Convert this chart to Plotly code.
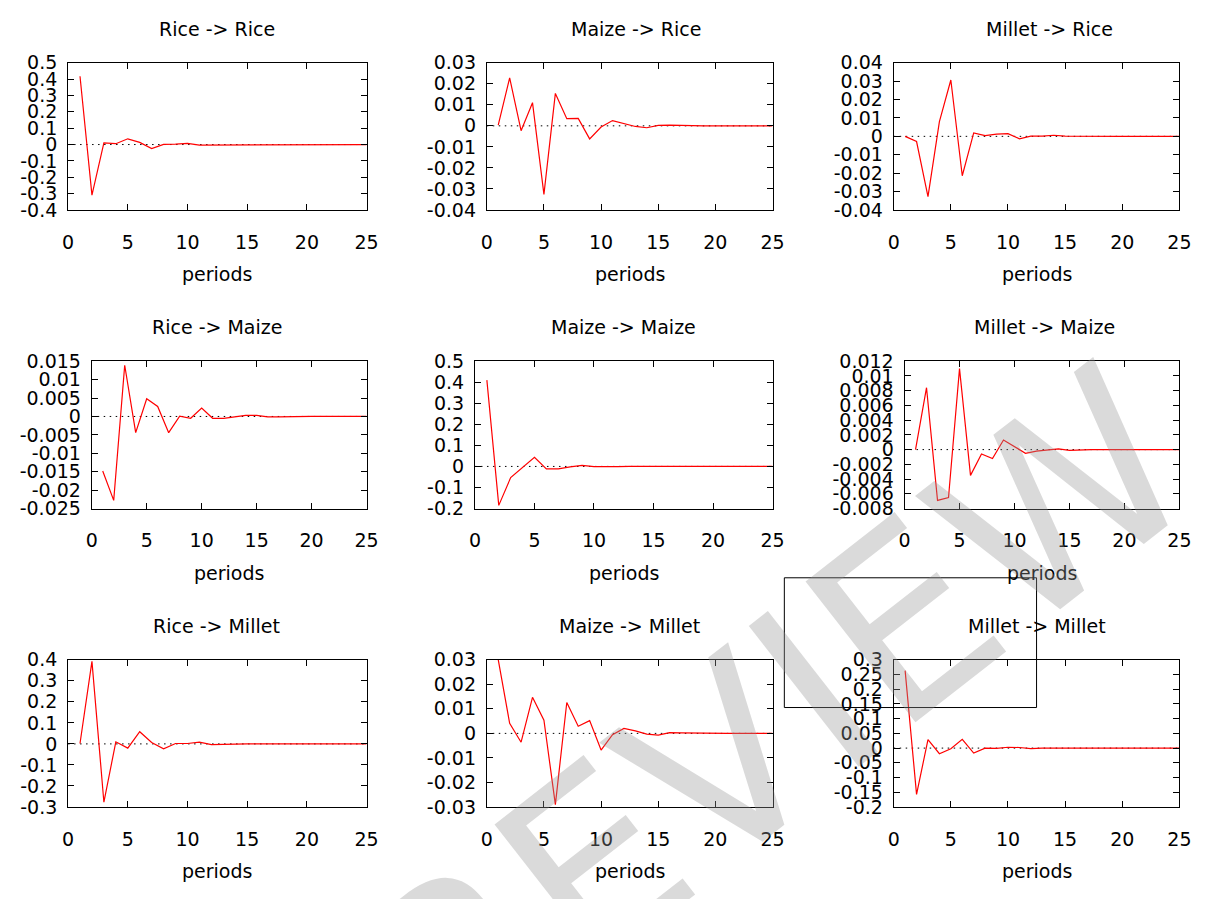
import plotly.graph_objects as go

# ---------------- data ----------------
periods = list(range(1, 26))

rice_rice = [0.417, -0.309, 0.010, 0.005, 0.035, 0.013, -0.025, 0.001, 0.002, 0.007,
             -0.003, -0.003, -0.001, 0.001, 0.000, 0.000, 0.000, 0.000, 0.000, 0.000,
             0.000, 0.000, 0.000, 0.000, 0.000]
maize_rice = [0.0003, 0.0228, -0.0023, 0.0110, -0.0326, 0.0154, 0.0034, 0.0035, -0.0062, -0.0006,
              0.0025, 0.0011, -0.0003, -0.0009, 0.0002, 0.0003, 0.0001, -0.0001, 0.0000, 0.0000,
              0.0000, 0.0000, 0.0000, 0.0000, 0.0000]
millet_rice = [0.0000, -0.0028, -0.0327, 0.0080, 0.0306, -0.0214, 0.0019, 0.0004, 0.0012, 0.0015,
               -0.0013, 0.0001, 0.0001, 0.0006, 0.0001, 0.0000, 0.0000, 0.0000, 0.0000, 0.0000,
               0.0000, 0.0000, 0.0000, 0.0000, 0.0000]
rice_maize = [-0.0148, -0.0228, 0.0139, -0.0044, 0.0048, 0.0027, -0.0044, 0.0001, -0.0005, 0.0023,
              -0.0005, -0.0005, -0.0001, 0.0003, 0.0003, -0.0001, -0.0001, 0.0000, 0.0000, 0.0000,
              0.0000, 0.0000, 0.0000, 0.0000, 0.0000]
maize_maize = [0.410, -0.185, -0.053, -0.005, 0.0435, -0.012, -0.012, -0.002, 0.005, -0.001,
               -0.002, -0.001, 0.000, 0.000, 0.000, 0.000, 0.000, 0.000, 0.000, 0.000,
               0.000, 0.000, 0.000, 0.000, 0.000]
millet_maize = [0.0000, 0.0084, -0.0069, -0.0065, 0.0110, -0.0035, -0.0006, -0.0012, 0.0013, 0.0004,
                -0.0005, -0.0002, 0.0000, 0.0001, -0.0001, 0.0000, 0.0000, 0.0000, 0.0000, 0.0000,
                0.0000, 0.0000, 0.0000, 0.0000, 0.0000]
rice_millet = [0.002, 0.392, -0.277, 0.010, -0.020, 0.058, 0.007, -0.023, 0.002, 0.002,
               0.008, -0.003, -0.002, 0.000, 0.000, 0.000, 0.000, 0.000, 0.000, 0.000,
               0.000, 0.000, 0.000, 0.000, 0.000]
maize_millet = [0.0300, 0.0041, -0.0036, 0.0147, 0.0054, -0.0290, 0.0126, 0.0029, 0.0052, -0.0068,
                -0.0005, 0.0020, 0.0010, -0.0003, -0.0007, 0.0003, 0.0002, 0.0001, 0.0000, 0.0000,
                0.0000, 0.0000, 0.0000, 0.0000, 0.0000]
millet_millet = [0.263, -0.157, 0.029, -0.019, -0.002, 0.030, -0.017, 0.000, -0.001, 0.003,
                 0.002, -0.002, 0.000, 0.000, 0.000, 0.000, 0.000, 0.000, 0.000, 0.000,
                 0.000, 0.000, 0.000, 0.000, 0.000]

titles = ["Rice -> Rice", "Maize -> Rice", "Millet -> Rice",
          "Rice -> Maize", "Maize -> Maize", "Millet -> Maize",
          "Rice -> Millet", "Maize -> Millet", "Millet -> Millet"]
series = [rice_rice, maize_rice, millet_rice,
          rice_maize, maize_maize, millet_maize,
          rice_millet, maize_millet, millet_millet]

x_ticks = [0, 5, 10, 15, 20, 25]
y_ticks = [
    [-0.4, -0.3, -0.2, -0.1, 0, 0.1, 0.2, 0.3, 0.4, 0.5],
    [-0.04, -0.03, -0.02, -0.01, 0, 0.01, 0.02, 0.03],
    [-0.04, -0.03, -0.02, -0.01, 0, 0.01, 0.02, 0.03, 0.04],
    [-0.025, -0.02, -0.015, -0.01, -0.005, 0, 0.005, 0.01, 0.015],
    [-0.2, -0.1, 0, 0.1, 0.2, 0.3, 0.4, 0.5],
    [-0.008, -0.006, -0.004, -0.002, 0, 0.002, 0.004, 0.006, 0.008, 0.01, 0.012],
    [-0.3, -0.2, -0.1, 0, 0.1, 0.2, 0.3, 0.4],
    [-0.03, -0.02, -0.01, 0, 0.01, 0.02, 0.03],
    [-0.2, -0.15, -0.1, -0.05, 0, 0.05, 0.1, 0.15, 0.2, 0.25, 0.3],
]
x_label = "periods"
watermark = "PREVIEW"

# ---------------- layout geometry (pixels) ----------------
W, H = 1219, 899
left_px = [63, 488, 901, 87, 476, 912, 63, 488, 901]
right_px = [366, 778, 1191] * 3
rows_px = [(53, 204), (359, 510), (665, 816)]
title_cx = [214, 639, 1059, 214, 627, 1054, 214, 633, 1046]

FONT = "DejaVu Sans"
FS = 19
fig = go.Figure()
annotations = []

for i in range(9):
    r = i // 3
    top, bot = rows_px[r]
    xa = "x" if i == 0 else f"x{i+1}"
    ya = "y" if i == 0 else f"y{i+1}"
    xkey = "xaxis" if i == 0 else f"xaxis{i+1}"
    ykey = "yaxis" if i == 0 else f"yaxis{i+1}"

    fig.add_trace(go.Scatter(x=[0, 25], y=[0, 0], mode="lines", xaxis=xa, yaxis=ya,
                             line=dict(color="black", width=1, dash="1.5px,4.5px"),
                             hoverinfo="skip", showlegend=False))
    fig.add_trace(go.Scatter(x=periods, y=series[i], mode="lines", xaxis=xa, yaxis=ya,
                             line=dict(color="#ff0000", width=1.2),
                             showlegend=False, name=titles[i]))

    yt = y_ticks[i]
    ytext = ["{:g}".format(round(v, 6) + 0.0) for v in yt]
    fig.layout[xkey] = dict(
        domain=[left_px[i] / W, right_px[i] / W], anchor=ya,
        range=[0, 25], tickvals=x_ticks, ticktext=[str(v) for v in x_ticks],
        ticks="inside", ticklen=6, tickwidth=1, tickcolor="black",
        showline=True, linecolor="black", linewidth=1, mirror="ticks",
        showgrid=False, zeroline=False, ticklabelstandoff=15,
        tickfont=dict(family=FONT, size=FS, color="black"),
    )
    fig.layout[ykey] = dict(
        domain=[1 - bot / H, 1 - top / H], anchor=xa,
        range=[yt[0], yt[-1]], tickvals=yt, ticktext=ytext,
        ticks="inside", ticklen=6, tickwidth=1, tickcolor="black",
        showline=True, linecolor="black", linewidth=1, mirror="ticks",
        showgrid=False, zeroline=False, ticklabelstandoff=6,
        tickfont=dict(family=FONT, size=FS, color="black"),
    )
    annotations.append(dict(text=titles[i], x=title_cx[i] / W, y=1 - (18 + 306 * r) / H,
                            xref="paper", yref="paper", xanchor="center", yanchor="middle",
                            showarrow=False, font=dict(family=FONT, size=FS, color="black")))
    annotations.append(dict(text=x_label, x=(left_px[i] + right_px[i]) / 2 / W,
                            y=1 - (270 + 306 * r) / H,
                            xref="paper", yref="paper", xanchor="center", yanchor="middle",
                            showarrow=False, font=dict(family=FONT, size=FS, color="black")))

# watermark
annotations.append(dict(text=watermark, x=725 / W, y=1 - 775 / H,
                        xref="paper", yref="paper",
                        xanchor="center", yanchor="middle", showarrow=False, textangle=-38,
                        font=dict(family=FONT, size=245, color="rgba(150,150,150,0.35)")))

fig.update_layout(
    width=W, height=H, margin=dict(l=0, r=0, t=0, b=0),
    paper_bgcolor="white", plot_bgcolor="white",
    annotations=annotations,
    shapes=[dict(type="rect", xref="paper", yref="paper",
                 x0=790 / W, x1=1046 / W, y0=1 - 714 / H, y1=1 - 581 / H,
                 line=dict(color="black", width=1), fillcolor="rgba(0,0,0,0)")],
)

fig.write_html("out.html", config={"displayModeBar": False},
               post_script="document.body.style.margin='0';document.body.style.overflow='hidden';")
